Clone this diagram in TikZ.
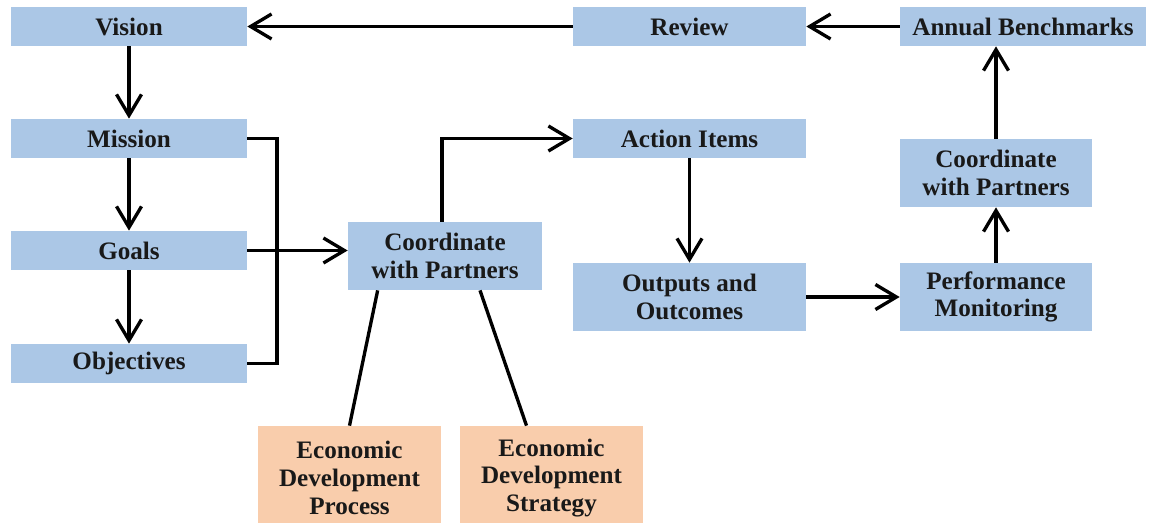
\documentclass[tikz,border=0pt]{standalone}
\usepackage{fontspec}
\setmainfont{Liberation Serif}
\usetikzlibrary{arrows.meta}
\definecolor{boxblue}{RGB}{171,199,230}
\definecolor{boxorange}{RGB}{249,205,172}
\tikzset{
  bx/.style={fill=boxblue, draw=none, align=center, inner sep=0pt,
    font=\bfseries\fontsize{14.3}{15.8}\selectfont, text=black!90},
  obx/.style={bx, fill=boxorange},
  conn/.style={line width=1.9pt, draw=black},
  arr/.style={conn, -{Straight Barb[length=0.42cm,width=0.5cm,line width=1.9pt]}},
}
\begin{document}
\begin{tikzpicture}[x=0.02cm,y=-0.02cm]
\useasboundingbox (0,0) rectangle (1152,523);
% top row
\node[bx, minimum width=4.72cm, minimum height=0.78cm] (vision) at (129,26.5) {Vision};
\node[bx, minimum width=4.66cm, minimum height=0.78cm] (review) at (689.5,26.5) {Review};
\node[bx, minimum width=4.92cm, minimum height=0.78cm] (annual) at (1023,26.5) {Annual Benchmarks};
% left column
\node[bx, minimum width=4.72cm, minimum height=0.78cm] (mission) at (129,138.5) {Mission};
\node[bx, minimum width=4.72cm, minimum height=0.78cm] (goals) at (129,250.5) {Goals};
\node[bx, minimum width=4.72cm, minimum height=0.78cm] (objectives) at (129,363.5) {Objectives};
% middle
\node[bx, minimum width=3.88cm, minimum height=1.36cm] (coordm) at (445,256) {Coordinate\\with Partners};
\node[bx, minimum width=4.66cm, minimum height=0.78cm] (action) at (689.5,138.5) {Action Items};
\node[bx, minimum width=4.66cm, minimum height=1.36cm] (outputs) at (689.5,297) {Outputs and\\Outcomes};
% right column
\node[bx, minimum width=3.84cm, minimum height=1.36cm] (perf) at (996,297) {Performance\\Monitoring};
\node[bx, minimum width=3.84cm, minimum height=1.36cm] (coordr) at (996,173) {Coordinate\\with Partners};
% bottom
\node[obx, minimum width=3.66cm, minimum height=2.08cm] (edp) at (349.5,478) {Economic\\Development\\Process};
\node[obx, minimum width=3.66cm, minimum height=2.08cm] (eds) at (551.5,478) {Economic\\Development\\Strategy};
% connectors
\draw[arr] (review.west) -- (vision.east);
\draw[arr] (annual.west) -- (review.east);
\draw[arr] (vision.south) -- (mission.north);
\draw[arr] (mission.south) -- (goals.north);
\draw[arr] (goals.south) -- (objectives.north);
\coordinate (brk) at (277,138.5);
\draw[conn] (mission.east) -- (brk) |- (objectives.east);
\draw[arr] (goals.east) -- (goals.east -| coordm.west);
\draw[arr] ([xshift=-3*0.02cm]coordm.north) |- (action.west);
\draw[arr] (action.south) -- (outputs.north);
\draw[arr] (outputs.east) -- (perf.west);
\draw[arr] (perf.north) -- (coordr.south);
\draw[arr] (coordr.north) -- (coordr.north |- annual.south);
\draw[conn] ([xshift=30*0.02cm]coordm.south west) -- (edp.north);
\draw[conn] ([xshift=35*0.02cm]coordm.south) -- ([xshift=-25*0.02cm]eds.north);
\end{tikzpicture}
\end{document}
